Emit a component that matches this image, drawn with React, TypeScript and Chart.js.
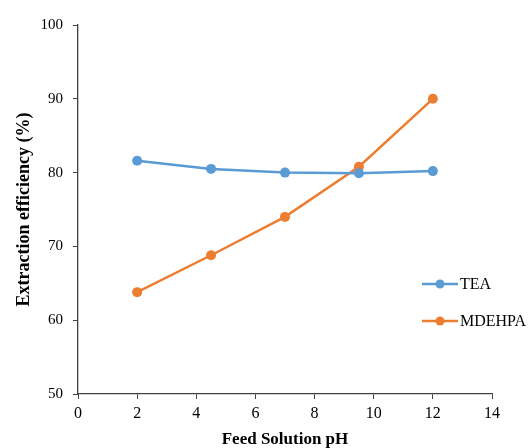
import React, { useEffect, useRef } from "react";
import { Chart, registerables } from "chart.js";

Chart.register(...registerables);

const phValues = [2, 4.5, 7, 9.5, 12];
const teaValues = [81.6, 80.5, 80.0, 79.9, 80.2];
const mdehpaValues = [63.8, 68.8, 74.0, 80.8, 90.0];
const seriesNames = ["TEA", "MDEHPA"];
const seriesColors = ["#5B9BD5", "#ED7D31"];

const FONT = "'Liberation Serif', 'Times New Roman', serif";

const legendPlugin = {
  id: "insideLegend",
  afterDraw(chart: any) {
    const ctx = chart.ctx;
    const opts = chart.options.plugins.insideLegend;
    chart.data.datasets.forEach((ds: any, i: number) => {
      const y = opts.y + i * opts.gap;
      const x0 = opts.x;
      ctx.save();
      ctx.strokeStyle = ds.borderColor;
      ctx.lineWidth = 2.5;
      ctx.beginPath();
      ctx.moveTo(x0, y);
      ctx.lineTo(x0 + opts.lineLen, y);
      ctx.stroke();
      ctx.fillStyle = ds.backgroundColor;
      ctx.beginPath();
      ctx.arc(x0 + opts.lineLen / 2, y, 4.5, 0, Math.PI * 2);
      ctx.fill();
      ctx.fillStyle = "#000";
      ctx.font = `16px ${FONT}`;
      ctx.textBaseline = "middle";
      ctx.textAlign = "left";
      ctx.fillText(ds.label, x0 + opts.lineLen + 2, y + 1);
      ctx.restore();
    });
  },
};

export default function App() {
  const ref = useRef<HTMLCanvasElement>(null);
  useEffect(() => {
    document.body.style.margin = "0";
    const makePts = (vals: number[]) => phValues.map((x, i) => ({ x, y: vals[i] }));
    const chart = new Chart(ref.current!, {
      type: "line",
      data: {
        datasets: [teaValues, mdehpaValues].map((vals, i) => ({
          label: seriesNames[i],
          data: makePts(vals),
          borderColor: seriesColors[i],
          backgroundColor: seriesColors[i],
          pointBackgroundColor: seriesColors[i],
          pointBorderColor: seriesColors[i],
          borderWidth: 2.5,
          pointRadius: 5,
          pointBorderWidth: 0,
          tension: 0,
        })),
      },
      plugins: [legendPlugin],
      options: {
        animation: false,
        responsive: false,
        events: [],
        layout: { padding: { top: 25, right: 40, left: 0, bottom: 0 } },
        plugins: {
          legend: { display: false },
          tooltip: { enabled: false },
          insideLegend: { x: 422, y: 284, gap: 37, lineLen: 36 },
        } as any,
        scales: {
          x: {
            type: "linear",
            min: 0,
            max: 14,
            ticks: { stepSize: 2, color: "#000", font: { family: FONT, size: 16 }, padding: 5 },
            grid: { display: true, drawOnChartArea: false, drawTicks: true, tickLength: 5, color: "#404040", lineWidth: 1 },
            border: { display: true, color: "#404040", width: 1.3 },
            title: { display: true, text: "Feed Solution pH", color: "#000", font: { family: FONT, size: 17, weight: "bold" }, padding: { top: 0, bottom: -2 } },
            afterFit: (s: any) => { s.height = 54; },
          },
          y: {
            type: "linear",
            min: 50,
            max: 100,
            ticks: { stepSize: 10, color: "#000", font: { family: FONT, size: 15 }, padding: 10 },
            grid: { display: true, drawOnChartArea: false, drawTicks: true, tickLength: 5, color: "#404040", lineWidth: 1 },
            border: { display: true, color: "#404040", width: 1.3 },
            title: { display: true, text: "Extraction efficiency (%)", color: "#000", font: { family: FONT, size: 18, weight: "bold" }, padding: { top: 14, bottom: 0 } },
            afterFit: (s: any) => { s.width = 78; },
          },
        },
      },
    });
    return () => chart.destroy();
  }, []);
  return (
    <div style={{ width: 532, height: 448, background: "#fff" }}>
      <canvas ref={ref} width={532} height={448} style={{ display: "block" }} />
    </div>
  );
}
